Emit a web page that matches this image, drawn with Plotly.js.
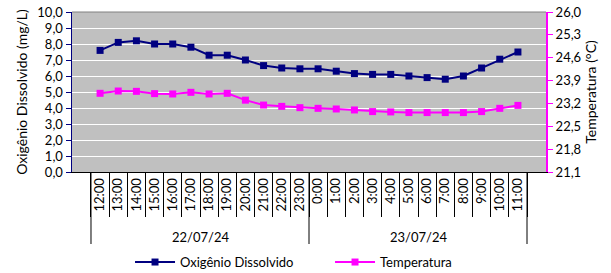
<!DOCTYPE html>
<html><head><meta charset="utf-8">
<script src="https://cdn.plot.ly/plotly-3.0.1.min.js"></script>
<style>html,body{margin:0;padding:0;background:#fff}</style>
</head><body><div id="chart" style="width:611px;height:273px"></div>
<script>
const hours = ["12:00","13:00","14:00","15:00","16:00","17:00","18:00","19:00","20:00","21:00","22:00","23:00",
               "0:00","1:00","2:00","3:00","4:00","5:00","6:00","7:00","8:00","9:00","10:00","11:00"];
const dates = ["22/07/24","23/07/24"];
const oxigenio = [7.6,8.1,8.2,8.0,8.0,7.8,7.3,7.3,7.0,6.65,6.5,6.45,
                  6.45,6.3,6.15,6.1,6.1,6.0,5.9,5.8,6.0,6.5,7.05,7.5];
const temperatura = [23.51,23.58,23.57,23.50,23.49,23.54,23.49,23.51,23.30,23.15,23.11,23.07,
                     23.05,23.03,23.00,22.95,22.94,22.92,22.92,22.92,22.92,22.95,23.05,23.14];

const font = "Lato, 'Open Sans', sans-serif";
const traces = [
  {x: hours, y: oxigenio, name: "Oxigênio Dissolvido", type: "scatter", mode: "lines+markers",
   line: {color: "#000080", width: 2}, marker: {symbol: "square", size: 7, color: "#000080"}},
  {x: hours, y: temperatura, name: "Temperatura", type: "scatter", mode: "lines+markers", yaxis: "y2",
   line: {color: "#FF00FF", width: 2}, marker: {symbol: "square", size: 7, color: "#FF00FF"}}
];
const shapes = [-0.5, 11.5, 23.5].map(v => ({type: "line", xref: "x", yref: "paper",
   x0: v, x1: v, y0: 0, y1: -0.45, line: {color: "#000", width: 1}}));
const annotations = dates.map((d, i) => ({text: d, xref: "x", yref: "paper", x: 5.5 + 12*i, y: -0.406,
   yanchor: "middle", showarrow: false, font: {size: 13, color: "#000", family: font}}));
const layout = {
  width: 611, height: 273,
  margin: {l: 72, r: 65, t: 12, b: 101},
  separators: ",.",
  paper_bgcolor: "#fff", plot_bgcolor: "#C0C0C0",
  font: {family: font, size: 13, color: "#000"},
  showlegend: true,
  legend: {orientation: "h", x: 0.2128, xanchor: "left", xref: "container", yref: "container", y: 0.04, yanchor: "middle",
           font: {size: 13, family: font}, itemwidth: 40, tracegroupgap: 0, entrywidth: 145},
  xaxis: {type: "category", tickangle: -90, tickson: "boundaries", ticks: "outside", ticklen: 44,
          tickcolor: "#000", showline: true, linecolor: "#000", linewidth: 1, showgrid: false,
          tickfont: {size: 13, family: font}, mirror: false, automargin: false},
  yaxis: {range: [0, 10], dtick: 1, tick0: 0, tickformat: ".1f", showline: true, linecolor: "#000080",
          linewidth: 1.5, ticks: "outside", ticklen: 5, tickcolor: "#000080", gridcolor: "#fff",
          gridwidth: 1, zeroline: false, tickfont: {size: 13, family: font}, automargin: false,
          title: {text: "Oxigênio Dissolvido (mg/L)", font: {size: 14, family: font}, standoff: 6}},
  yaxis2: {range: [21.1, 26.0], dtick: 0.7, tick0: 21.1, tickformat: ".1f", overlaying: "y", side: "right",
           showline: true, linecolor: "#FF00FF", linewidth: 2, ticks: "outside", ticklen: 5,
           tickcolor: "#FF00FF", showgrid: false, zeroline: false, tickfont: {size: 13, family: font},
           automargin: false,
           title: {text: "Temperatura (°C)", font: {size: 14, family: font}, standoff: 6}},
  shapes: shapes.concat([{type: "line", xref: "paper", yref: "paper", x0: 0, x1: 1, y0: 1, y1: 1,
           line: {color: "#808080", width: 1}}]),
  annotations: annotations
};
Plotly.newPlot("chart", traces, layout, {displayModeBar: false, staticPlot: true});
</script></body></html>
